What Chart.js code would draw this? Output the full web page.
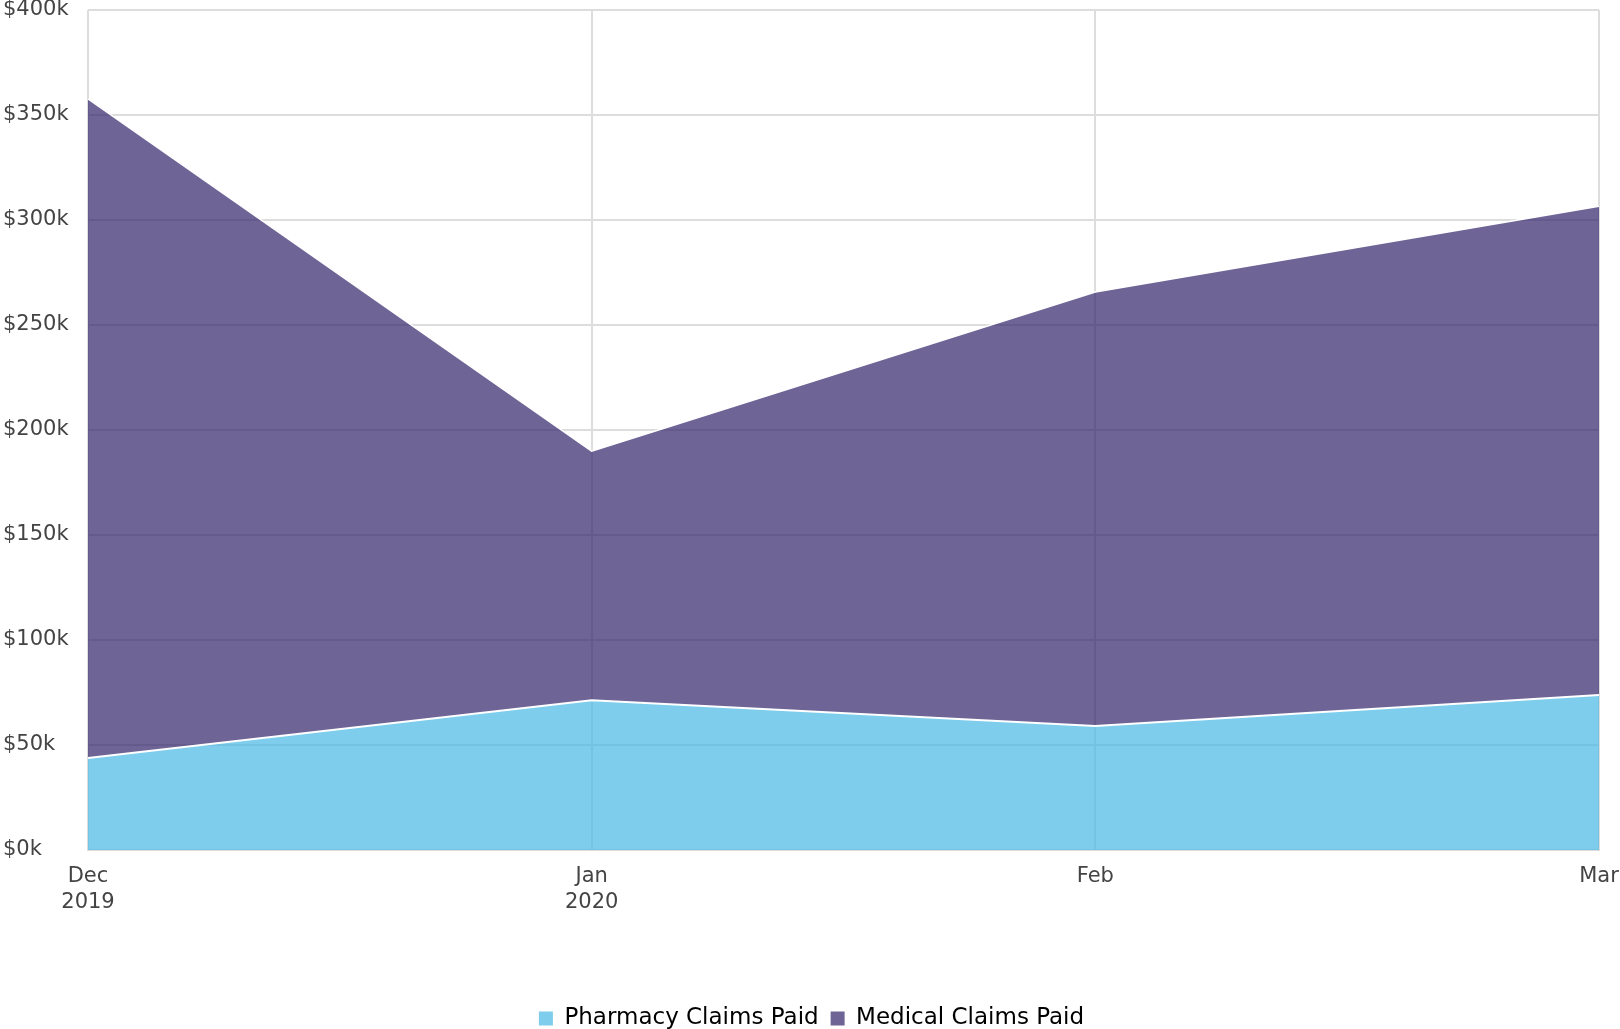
<!DOCTYPE html>
<html>
<head>
<meta charset="utf-8">
<script src="https://cdn.jsdelivr.net/npm/chart.js@4.4.0/dist/chart.umd.min.js"></script>
<style>
  html, body { margin: 0; padding: 0; background: #fff; }
  #wrap { width: 1620px; height: 1029px; }
</style>
</head>
<body>
<div id="wrap"><canvas id="c" width="1620" height="1029"></canvas></div>
<script>
const categories = [['Dec', '2019'], ['Jan', '2020'], 'Feb', 'Mar'];
const pharmacyClaims = [43800, 71300, 59000, 73800];
const medicalClaims = [313900, 118600, 206700, 232700];
const seriesNames = ['Pharmacy Claims Paid', 'Medical Claims Paid'];
const yMax = 400000;
const yStep = 50000;

Chart.defaults.font.family = '"DejaVu Sans", sans-serif';
Chart.defaults.color = '#444';

new Chart(document.getElementById('c'), {
  type: 'line',
  data: {
    labels: categories,
    datasets: [
      {
        label: seriesNames[0],
        data: pharmacyClaims,
        fill: 'origin',
        backgroundColor: 'rgba(71,184,228,0.7)',
        borderColor: '#ffffff',
        borderWidth: 2,
        pointRadius: 0,
        tension: 0
      },
      {
        label: seriesNames[1],
        data: medicalClaims,
        fill: '-1',
        backgroundColor: 'rgba(49,34,105,0.7)',
        borderColor: '#ffffff',
        borderWidth: 1.5,
        pointRadius: 0,
        tension: 0
      }
    ]
  },
  options: {
    responsive: false,
    animation: false,
    devicePixelRatio: 1,
    layout: { padding: { left: 3, right: 0, top: 0, bottom: -11 } },
    plugins: {
      legend: {
        position: 'bottom',
        labels: {
          font: { size: 23 },
          color: '#333',
          boxWidth: 14,
          boxHeight: 14,
          padding: 12,
          generateLabels(chart) {
            return chart.data.datasets.map((ds, i) => ({
              text: ds.label,
              fillStyle: i === 0 ? 'rgba(126,205,236,1)' : 'rgba(111,100,150,1)',
              strokeStyle: 'rgba(0,0,0,0)',
              lineWidth: 0,
              hidden: false,
              datasetIndex: i
            }));
          }
        }
      },
      tooltip: { enabled: false }
    },
    scales: {
      x: {
        offset: false,
        grid: { color: '#dddddd', lineWidth: 2, drawTicks: false },
        border: { color: '#dddddd', width: 2 },
        ticks: { font: { size: 21, lineHeight: 1.25 }, padding: 13, maxRotation: 0, autoSkip: false, color: '#444' },
        afterFit(scale) {
          scale.height = 145;
          scale.paddingRight = 21;
          scale.paddingLeft = 0;
        }
      },
      y: {
        stacked: true,
        min: 0,
        max: yMax,
        grid: { color: '#dddddd', lineWidth: 2, drawTicks: false },
        border: { display: false },
        ticks: {
          stepSize: yStep,
          font: { size: 21 },
          crossAlign: 'far',
          padding: 20,
          color: '#444',
          callback: v => '$' + (v / 1000) + 'k'
        },
        afterFit(scale) {
          scale.width = 85;
          scale.paddingTop = 10;
          scale.paddingBottom = 0;
        }
      }
    }
  }
});
</script>
</body>
</html>
